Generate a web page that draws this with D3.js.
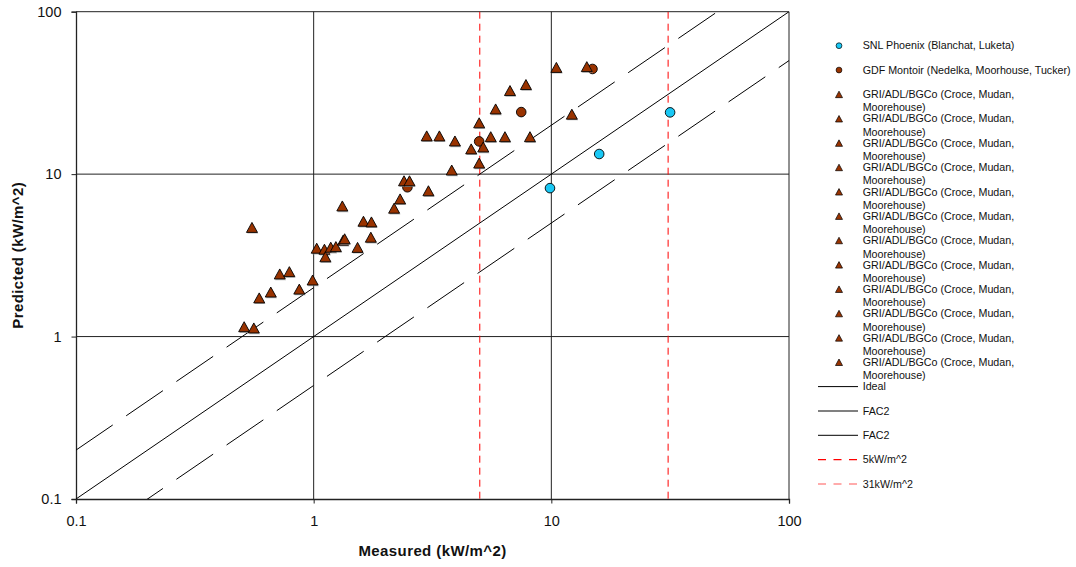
<!DOCTYPE html>
<html>
<head>
<meta charset="utf-8">
<script src="https://cdn.jsdelivr.net/npm/d3@7"></script>
<style>
  body { margin: 0; background: #fff; }
  svg { display: block; font-family: "Liberation Sans", Arial, sans-serif; }
</style>
</head>
<body>
<svg id="chart" width="1076" height="567"></svg>
<script>
// ---- Data (kW/m^2) ----
const snlMeasured  = [9.87, 15.9, 31.6];
const snlPredicted = [8.2, 13.3, 24.0];

const gdfMeasured  = [2.48, 4.97, 7.47, 14.9];
const gdfPredicted = [8.3, 15.9, 24.1, 44.4];

const griMeasured  = [0.51, 0.56, 0.55, 0.59, 0.66, 0.72, 0.79, 0.87, 0.99, 1.03,
                      1.11, 1.12, 1.18, 1.24, 1.33, 1.35, 1.53, 1.32, 1.62, 1.75,
                      1.74, 2.18, 2.31, 2.40, 2.53, 3.04, 2.99, 3.38, 3.93, 3.81,
                      4.6, 4.97, 5.17, 4.97, 5.56, 6.38, 5.83, 6.7, 7.82, 8.13,
                      10.5, 14.1, 12.2];
const griPredicted = [1.15, 1.13, 4.7, 1.73, 1.88, 2.43, 2.51, 1.96, 2.23, 3.5,
                      3.45, 3.1, 3.55, 3.58, 3.92, 4.0, 3.54, 6.37, 5.13, 5.08,
                      4.09, 6.17, 7.04, 9.1, 9.1, 7.9, 17.2, 17.2, 16.0, 10.6,
                      14.3, 20.7, 14.7, 11.7, 17.0, 17.0, 25.2, 32.7, 35.6, 17.0,
                      45.4, 45.9, 23.4];

// reference lines: ideal y = x, factor-of-two band, flux thresholds
const idealLine  = [[0.1, 0.1], [100, 100]];
const fac2Upper  = [[0.1, 0.2], [50, 100]];
const fac2Lower  = [[0.1, 0.05], [100, 50]];
const thresholds = [5, 31];

const axisTicks      = [0.1, 1, 10, 100];
const axisTickLabels = ["0.1", "1", "10", "100"];
const gridValues     = [1, 10, 100];

const griLabel = "GRI/ADL/BGCo (Croce, Mudan, Moorehouse)";
const legendLabels = [
  "SNL Phoenix (Blanchat, Luketa)",
  "GDF Montoir (Nedelka, Moorhouse, Tucker)",
  griLabel, griLabel, griLabel, griLabel, griLabel, griLabel,
  griLabel, griLabel, griLabel, griLabel, griLabel, griLabel,
  "Ideal", "FAC2", "FAC2", "5kW/m^2", "31kW/m^2"
];
const legendKinds = [
  "snl", "gdf",
  "gri", "gri", "gri", "gri", "gri", "gri",
  "gri", "gri", "gri", "gri", "gri", "gri",
  "ideal", "fac2a", "fac2b", "t5", "t31"
];

// ---- Styles ----
const brown = "#993300";
const cyan = "#19c8f5";
const red = "#ff0000";

const svg = d3.select("#chart");

const x = d3.scaleLog().domain([0.1, 100]).range([76, 789]);
const y = d3.scaleLog().domain([0.1, 100]).range([499, 11.7]);

svg.append("defs").append("clipPath").attr("id", "plotClip")
  .append("rect")
  .attr("x", x(0.1)).attr("y", y(100))
  .attr("width", x(100) - x(0.1)).attr("height", y(0.1) - y(100));

// gridlines
const grid = svg.append("g");
grid.selectAll("line.v").data(gridValues).join("line")
  .attr("x1", d => x(d)).attr("x2", d => x(d))
  .attr("y1", y(0.1)).attr("y2", y(100))
  .attr("stroke", "#222").attr("stroke-width", 1);
grid.selectAll("line.h").data(gridValues).join("line")
  .attr("class", "h")
  .attr("x1", x(0.1)).attr("x2", x(100))
  .attr("y1", d => y(d)).attr("y2", d => y(d))
  .attr("stroke", "#222").attr("stroke-width", 1);

// axes
const yAxis = svg.append("g")
  .attr("transform", `translate(${x(0.1)},0)`)
  .call(d3.axisLeft(y).tickValues(axisTicks)
    .tickFormat((d, i) => axisTickLabels[i]).tickSize(4.5).tickPadding(10));
const xAxis = svg.append("g")
  .attr("transform", `translate(0,${y(0.1)})`)
  .call(d3.axisBottom(x).tickValues(axisTicks)
    .tickFormat((d, i) => axisTickLabels[i]).tickSize(4.5).tickPadding(12));
[xAxis, yAxis].forEach(g => {
  g.select(".domain").attr("stroke", "#222").attr("stroke-width", 1.3);
  g.selectAll(".tick line").attr("stroke", "#222");
  g.selectAll(".tick text")
    .attr("font-family", "'Liberation Sans', Arial, sans-serif")
    .attr("font-size", 14.5).attr("fill", "#111");
});

// axis titles
svg.append("text")
  .attr("x", (x(0.1) + x(100)) / 2).attr("y", 551).attr("dy", "0.35em")
  .attr("text-anchor", "middle").attr("font-weight", "bold")
  .attr("font-size", 15).attr("letter-spacing", 0.4).attr("fill", "#111")
  .text("Measured (kW/m^2)");
svg.append("text")
  .attr("transform", `translate(18,${(y(0.1) + y(100)) / 2})rotate(-90)`)
  .attr("dy", "0.35em")
  .attr("text-anchor", "middle").attr("font-weight", "bold")
  .attr("font-size", 15).attr("letter-spacing", 0.4).attr("fill", "#111")
  .text("Predicted (kW/m^2)");

// reference lines
const plot = svg.append("g").attr("clip-path", "url(#plotClip)");
const line = d3.line().x(d => x(d[0])).y(d => y(d[1]));

plot.selectAll("line.thr").data(thresholds).join("line")
  .attr("class", "thr")
  .attr("x1", d => x(d)).attr("x2", d => x(d))
  .attr("y1", y(100)).attr("y2", y(0.1))
  .attr("stroke", red).attr("stroke-width", 1)
  .attr("stroke-dasharray", "7,5");

plot.append("path").datum(idealLine).attr("d", line)
  .attr("fill", "none").attr("stroke", "#000").attr("stroke-width", 1);
[fac2Upper, fac2Lower].forEach(seg => {
  plot.append("path").datum(seg).attr("d", line)
    .attr("fill", "none").attr("stroke", "#000").attr("stroke-width", 1)
    .attr("stroke-dasharray", "44.5,16.3");
});

// markers
const triPath = (w, h) => `M0,${-h / 2}L${w / 2},${h / 2}L${-w / 2},${h / 2}Z`;

const snl = snlMeasured.map((m, i) => [m, snlPredicted[i]]);
const gdf = gdfMeasured.map((m, i) => [m, gdfPredicted[i]]);
const gri = griMeasured.map((m, i) => [m, griPredicted[i]]);

svg.append("g").selectAll("circle").data(snl).join("circle")
  .attr("cx", d => x(d[0])).attr("cy", d => y(d[1])).attr("r", 4.8)
  .attr("fill", cyan).attr("stroke", "#000").attr("stroke-width", 0.9);

svg.append("g").selectAll("circle").data(gdf).join("circle")
  .attr("cx", d => x(d[0])).attr("cy", d => y(d[1])).attr("r", 4.8)
  .attr("fill", brown).attr("stroke", "#000").attr("stroke-width", 0.9);

const triG = svg.append("g");
gri.forEach(d => {
  const g = triG.append("g").attr("transform", `translate(${x(d[0])},${y(d[1])})`);
  g.append("path").attr("d", triPath(11, 10))
    .attr("transform", "translate(0.8,1.2)")
    .attr("fill", "#9a9a9a").attr("opacity", 0.7);
  g.append("path").attr("d", triPath(11, 10))
    .attr("fill", brown).attr("stroke", "#000").attr("stroke-width", 0.9)
    .attr("stroke-linejoin", "miter");
});

// legend
const legY0 = 45.7, legStep = 24.35, markX = 839, textX = 862.7;
const leg = svg.append("g").attr("font-size", 10.7).attr("fill", "#111");
legendLabels.forEach((label, i) => {
  const yy = legY0 + legStep * i;
  const kind = legendKinds[i];
  if (kind === "snl" || kind === "gdf") {
    leg.append("circle").attr("cx", markX).attr("cy", yy).attr("r", 2.9)
      .attr("fill", kind === "snl" ? cyan : brown)
      .attr("stroke", "#000").attr("stroke-width", 0.7);
  } else if (kind === "gri") {
    leg.append("path").attr("d", triPath(7, 6.5))
      .attr("transform", `translate(${markX},${yy})`)
      .attr("fill", brown).attr("stroke", "#000").attr("stroke-width", 0.7);
  } else {
    const ln = leg.append("line")
      .attr("x1", 818).attr("x2", 858).attr("y1", yy).attr("y2", yy);
    if (kind === "ideal" || kind === "fac2b") {
      ln.attr("stroke", "#000").attr("stroke-width", 1);
    } else if (kind === "fac2a") {
      ln.attr("stroke", "#808080").attr("stroke-width", 2);
    } else {
      ln.attr("stroke", red).attr("stroke-width", 1.2)
        .attr("stroke-dasharray", "8,7.5")
        .attr("opacity", kind === "t31" ? 0.65 : 1);
    }
  }
  const t = leg.append("text").attr("x", textX).attr("y", yy);
  if (kind === "gri") {
    const cut = label.indexOf("Moorehouse");
    t.append("tspan").attr("x", textX).attr("dy", "0.35em").text(label.slice(0, cut).trim());
    t.append("tspan").attr("x", textX).attr("dy", 13.3).text(label.slice(cut));
  } else {
    t.attr("dy", "0.35em").text(label);
  }
});
</script>
</body>
</html>
